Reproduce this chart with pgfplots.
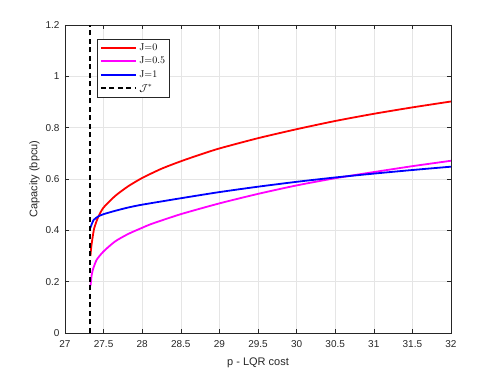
\documentclass[border=0pt]{standalone}
\usepackage{fontspec}
\setsansfont{Liberation Sans}
\usepackage{pgfplots}
\pgfplotsset{compat=1.18}
\definecolor{axgray}{gray}{0.15}
\definecolor{gridgray}{gray}{0.9}
\definecolor{mred}{RGB}{255,0,0}
\definecolor{mmag}{RGB}{255,0,255}
\definecolor{mblue}{RGB}{0,0,255}
\begin{document}
\begin{tikzpicture}
\path (-65pt,-41pt) rectangle (433pt,333pt);
\begin{axis}[
  scale only axis, width=386pt, height=308pt,
  xmin=27, xmax=32, ymin=0, ymax=1.2,
  xtick={27,27.5,...,32}, ytick={0,0.2,...,1.2},
  xticklabels={27,27.5,28,28.5,29,29.5,30,30.5,31,31.5,32},
  yticklabels={0,0.2,0.4,0.6,0.8,1,1.2},
  grid=major, major grid style={gridgray, line width=0.5pt},
  axis line style={axgray, line width=0.5pt},
  tick style={axgray, line width=0.5pt},
  tick align=inside, major tick length=4pt,
  xtick pos=both, ytick pos=both,
  tick label style={font=\sffamily\fontsize{10}{12}\selectfont, text=axgray},
  xticklabel style={yshift=-4pt},
  yticklabel style={xshift=-2pt},
  label style={font=\sffamily\fontsize{11}{13}\selectfont, text=axgray},
  /pgf/number format/assume math mode=true,
  xlabel={p - LQR cost}, ylabel={Capacity (bpcu)},
  xlabel style={yshift=-3pt}, ylabel style={yshift=-1pt},
  legend style={at={(0.083,0.955)}, anchor=north west, draw=axgray, line width=0.5pt,
    font=\fontsize{10}{11}\selectfont, row sep=1.2pt, inner sep=2.5pt},
  legend cell align=left,
  legend image code/.code={\draw[#1, sharp plot, line width=2pt] (0pt,0pt) -- (1.25cm,0pt);},
]
\addplot[mred, line width=1.8pt, smooth, tension=0.4] coordinates {
(27.33,0.30) (27.34,0.335) (27.36,0.377) (27.38,0.41) (27.43,0.452) (27.5,0.489)
(27.65,0.534) (27.82,0.572) (28,0.604) (28.25,0.640) (28.5,0.669) (28.75,0.695) (29,0.719)
(29.5,0.759) (30,0.794) (30.5,0.826) (31,0.854) (31.5,0.879) (32,0.902)};
\addlegendentry{J=0}
\addplot[mmag, line width=1.8pt, smooth, tension=0.4] coordinates {
(27.33,0.183) (27.345,0.225) (27.36,0.246) (27.41,0.285) (27.5,0.318) (27.65,0.357)
(27.82,0.386) (28,0.410) (28.13,0.426) (28.5,0.463) (29,0.505) (29.5,0.542)
(30,0.575) (30.5,0.603) (31,0.627) (31.5,0.650) (32,0.671)};
\addlegendentry{J=0.5}
\addplot[mblue, line width=1.8pt, smooth, tension=0.4] coordinates {
(27.33,0.41) (27.34,0.419) (27.37,0.44) (27.43,0.454) (27.5,0.463) (27.65,0.476)
(27.82,0.489) (28,0.500) (28.5,0.525) (29,0.549) (29.5,0.570) (30,0.589)
(30.5,0.606) (31,0.621) (31.5,0.635) (32,0.648)};
\addlegendentry{J=1}
\addplot[black, line width=1.8pt, dash pattern=on 5pt off 3.5pt] coordinates {(27.325,0) (27.325,1.2)};
\addlegendentry{$\mathcal{J}^*$}
\end{axis}
\end{tikzpicture}
\end{document}
